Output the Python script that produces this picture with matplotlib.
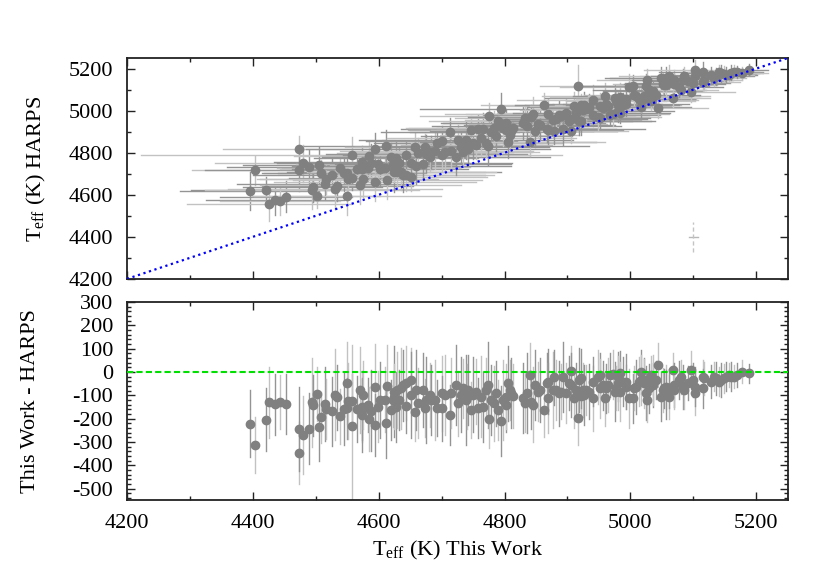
import numpy as np
import matplotlib
matplotlib.use("Agg")
import matplotlib.pyplot as plt
from matplotlib.ticker import MultipleLocator

plt.rcParams['font.family'] = ['Liberation Serif', 'DejaVu Serif']
plt.rcParams['mathtext.fontset'] = 'custom'
plt.rcParams['mathtext.rm'] = 'Liberation Serif'
plt.rcParams['axes.unicode_minus'] = False

# Teff from this work (K)
teff_this = [
    4395, 4403, 4421, 4426, 4435, 4443, 4453, 4473, 4474, 4480,
    4489, 4494, 4495, 4502, 4505, 4508, 4515, 4517, 4526, 4530,
    4534, 4538, 4545, 4549, 4550, 4551, 4557, 4557, 4566, 4571,
    4573, 4573, 4574, 4575, 4583, 4585, 4588, 4594, 4594, 4599,
    4602, 4610, 4612, 4614, 4620, 4623, 4625, 4625, 4628, 4629,
    4633, 4636, 4639, 4644, 4644, 4652, 4652, 4657, 4660, 4663,
    4670, 4673, 4676, 4681, 4683, 4689, 4692, 4700, 4700, 4705,
    4713, 4715, 4723, 4726, 4731, 4734, 4739, 4740, 4742, 4747,
    4750, 4755, 4758, 4763, 4766, 4771, 4774, 4775, 4779, 4784,
    4787, 4790, 4795, 4798, 4802, 4803, 4805, 4808, 4811, 4813,
    4829, 4832, 4835, 4840, 4842, 4845, 4848, 4853, 4856, 4863,
    4867, 4869, 4869, 4877, 4879, 4882, 4887, 4890, 4893, 4898,
    4903, 4906, 4906, 4911, 4914, 4917, 4919, 4922, 4922, 4924,
    4927, 4930, 4935, 4940, 4940, 4948, 4951, 4951, 4956, 4959,
    4961, 4964, 4967, 4972, 4975, 4977, 4980, 4980, 4983, 4983,
    4988, 4993, 4993, 4998, 5004, 5006, 5009, 5014, 5017, 5017,
    5022, 5022, 5025, 5027, 5030, 5033, 5036, 5036, 5041, 5044,
    5049, 5052, 5054, 5057, 5057, 5062, 5062, 5067, 5070, 5070,
    5078, 5080, 5083, 5086, 5091, 5096, 5099, 5102, 5102, 5115,
    5115, 5117, 5128, 5133, 5136, 5141, 5144, 5149, 5152, 5157,
    5160, 5165, 5170, 5178, 5189,
]

# This Work - HARPS (K)
teff_diff = [
    -221, -313, -204, -130, -138, -128, -138, -347, -244, -269,
    -244, -130, -142, -93, -236, -195, -138, -159, -168, -98,
    -108, -190, -157, -47, -155, -124, -124, -231, -157, -77,
    -162, -148, -184, -98, -142, -201, -165, -65, -226, -148,
    -120, -118, -220, -58, -162, -120, -84, -105, -148, -77,
    -120, -70, -56, -48, -145, -34, -98, -170, -77, -134,
    -77, -155, -120, -98, -120, -120, -155, -91, -155, -98,
    -184, -91, -56, -134, -98, -70, -120, -105, -77, -162,
    -98, -84, -155, -105, -148, -77, -56, -202, -120, -134,
    -91, -162, -212, -120, -141, -105, -48, -77, -91, -103,
    -113, -131, -91, -13, -127, -141, -56, -84, -77, -162,
    -48, -113, -41, -77, -23, -77, -91, -84, -20, -91,
    -48, 5, -56, -113, -77, -198, -34, -103, -27, -77,
    -98, -77, -84, -113, -41, -20, -13, -70, -56, -113,
    -70, -56, -13, -10, -84, -70, -20, -48, -6, -84,
    -41, -63, -41, -113, -113, -70, -63, -41, 1, -34,
    -34, -48, -91, -120, -70, -13, -56, -34, -34, 30,
    -105, -77, -70, -63, -98, -105, -70, 9, -56, -77,
    -34, -20, -63, -77, -48, 9, -34, -91, -63, -20,
    -70, -27, -41, -20, -27, -41, -34, -27, -20, -13,
    -20, -20, -13, 1, -6,
]

# uncertainties (K)
err_this = [
    110, 100, 120, 130, 110, 95, 105, 120, 150, 140,
    130, 170, 110, 100, 120, 90, 140, 110, 125, 170,
    120, 100, 130, 150, 110, 140, 100, 335, 120, 160,
    110, 130, 140, 120, 100, 120, 150, 160, 110, 130,
    140, 120, 130, 150, 110, 100, 170, 120, 130, 140,
    110, 150, 130, 140, 100, 120, 160, 110, 150, 130,
    140, 110, 160, 120, 130, 150, 100, 140, 120, 150,
    110, 130, 150, 120, 140, 110, 170, 120, 130, 100,
    140, 120, 110, 150, 130, 120, 160, 110, 130, 140,
    120, 110, 130, 150, 100, 120, 140, 110, 130, 120,
    130, 110, 150, 120, 100, 140, 130, 110, 120, 100,
    110, 130, 120, 140, 100, 110, 120, 100, 130, 110,
    100, 90, 120, 110, 100, 60, 120, 90, 110, 100,
    110, 90, 100, 120, 90, 100, 80, 110, 90, 100,
    90, 100, 80, 90, 110, 80, 90, 100, 80, 110,
    90, 80, 100, 110, 90, 80, 100, 90, 80, 90,
    80, 90, 100, 80, 90, 70, 80, 90, 70, 80,
    90, 80, 70, 80, 90, 80, 70, 60, 80, 70,
    70, 60, 80, 70, 60, 70, 60, 80, 70, 60,
    70, 60, 60, 50, 60, 50, 60, 50, 50, 40,
    50, 40, 40, 40, 30,
]

err_harps = [
    90, 70, 60, 80, 70, 65, 75, 60, 100, 90,
    80, 90, 70, 60, 85, 60, 75, 70, 80, 95,
    70, 65, 85, 90, 70, 80, 60, 85, 75, 90,
    70, 80, 75, 85, 60, 70, 90, 90, 75, 80,
    80, 70, 75, 90, 65, 60, 95, 70, 75, 80,
    70, 85, 80, 75, 60, 70, 90, 65, 85, 75,
    75, 60, 90, 70, 75, 85, 65, 80, 70, 85,
    70, 75, 85, 70, 80, 65, 90, 70, 75, 65,
    80, 70, 65, 85, 75, 70, 90, 60, 75, 80,
    70, 65, 75, 85, 60, 70, 80, 65, 75, 70,
    75, 65, 85, 70, 60, 80, 75, 65, 70, 60,
    65, 75, 70, 80, 60, 65, 70, 60, 75, 65,
    60, 55, 70, 65, 60, 100, 70, 55, 65, 60,
    65, 55, 60, 70, 55, 60, 50, 65, 55, 60,
    55, 60, 50, 55, 65, 50, 55, 60, 50, 65,
    55, 50, 60, 65, 55, 50, 60, 55, 50, 55,
    50, 55, 60, 50, 55, 45, 50, 55, 45, 50,
    55, 50, 45, 50, 55, 50, 45, 40, 50, 45,
    45, 40, 50, 45, 40, 45, 40, 50, 45, 40,
    45, 40, 40, 35, 40, 35, 40, 35, 35, 30,
    35, 30, 30, 30, 25,
]

x = np.array(teff_this, dtype=float)
d = np.array(teff_diff, dtype=float)
ex = np.array(err_this, dtype=float)
ey = np.array(err_harps, dtype=float)
harps = x - d
ed = np.hypot(ex, ey)

bar_cols = ['#949494' if i % 2 == 0 else '#c2c2c2' for i in range(len(x))]
pt_col = '#808080'

fig = plt.figure(figsize=(8.3, 5.81), dpi=100)
ax1 = fig.add_axes([0.153, 0.520, 0.796, 0.380])
ax2 = fig.add_axes([0.153, 0.139, 0.796, 0.341])

# top panel: HARPS vs this work
for i in range(len(x)):
    ax1.plot([x[i] - ex[i], x[i] + ex[i]], [harps[i], harps[i]],
             color=bar_cols[i], lw=1, zorder=1)
    ax1.plot([x[i], x[i]], [harps[i] - ey[i], harps[i] + ey[i]],
             color=bar_cols[i], lw=1, zorder=1)
ax1.plot(x, harps, 'o', color=pt_col, ms=6, mec=pt_col, zorder=3)
ax1.axline((4200, 4200), slope=1, color='#0000ff', lw=1.6,
           ls=(0, (1, 1.6)), zorder=5)

# typical error cross
ax1.plot([5093, 5107], [4400, 4400], color='#b8b8b8', lw=1, zorder=2)
ax1.plot([5100, 5100], [4330, 4470], color='#c4c4c4', lw=1,
         ls=(0, (3, 2)), zorder=2)

ax1.set_xlim(4200, 5250)
ax1.set_ylim(4200, 5250)
ax1.xaxis.set_major_locator(MultipleLocator(200))
ax1.xaxis.set_minor_locator(MultipleLocator(100))
ax1.yaxis.set_major_locator(MultipleLocator(200))
ax1.yaxis.set_minor_locator(MultipleLocator(100))
ax1.tick_params(labelbottom=False)
ax1.set_ylabel(r'T$_{\rm eff}$ (K) HARPS', fontsize=16)
ax1.yaxis.set_label_coords(-0.12, 0.5)

# bottom panel: differences
for i in range(len(x)):
    ax2.plot([x[i], x[i]], [d[i] - ed[i], d[i] + ed[i]],
             color=bar_cols[i], lw=1, zorder=1)
ax2.plot(x, d, 'o', color=pt_col, ms=6, mec=pt_col, zorder=3)
ax2.axhline(0, color='#00e000', lw=1.5, ls=(0, (3, 1.5)), zorder=5)

ax2.set_xlim(4200, 5250)
ax2.set_ylim(-550, 300)
ax2.xaxis.set_major_locator(MultipleLocator(200))
ax2.xaxis.set_minor_locator(MultipleLocator(100))
ax2.yaxis.set_major_locator(MultipleLocator(100))
ax2.yaxis.set_minor_locator(MultipleLocator(20))
ax2.set_ylabel('This Work - HARPS', fontsize=16)
ax2.yaxis.set_label_coords(-0.132, 0.5)
fig.text(0.551, 0.053, r'T$_{\rm eff}$ (K) This Work', fontsize=16,
         ha='center', va='center')

for ax in (ax1, ax2):
    for sp in ax.spines.values():
        sp.set_linewidth(1.3)
        sp.set_color('#222222')
    ax.tick_params(which='both', direction='in', top=True, right=True,
                   labelsize=16, width=1, colors='#222222')
    ax.tick_params(which='major', length=6)
    ax.tick_params(which='minor', length=3)
    ax.tick_params(axis='y', pad=10)
    ax.tick_params(axis='x', pad=10)
    for lab in ax.get_xticklabels() + ax.get_yticklabels():
        lab.set_color('black')

fig.savefig('out.png', dpi=100)
